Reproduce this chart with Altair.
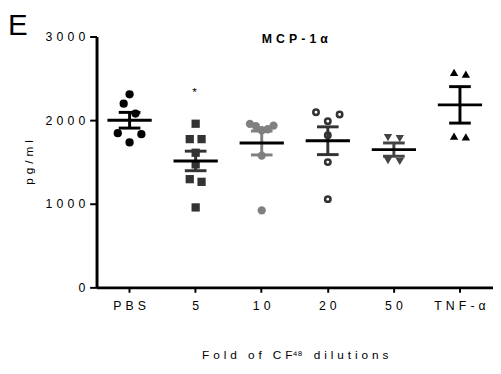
import altair as alt
import pandas as pd

# ---------------- data ----------------
groups = ["PBS", "5", "10", "20", "50", "TNF-α"]
pbs = [2309, 2196, 2079, 1844, 1832, 1733]
cf5 = [1957, 1773, 1773, 1610, 1471, 1294, 1262, 956]
cf10 = [1956, 1935, 1929, 1891, 1879, 1576, 921]
cf20 = [2094, 2067, 1988, 1820, 1498, 1055]
cf50 = [1790, 1780, 1515, 1505]
tnf = [2570, 2550, 1810, 1800]
series = [pbs, cf5, cf10, cf20, cf50, tnf]

star_group = "5"
star_value = 2340
y_ticks = [0, 1000, 2000, 3000]

panel_letter = ["E"]
chart_title = ["MCP-1α"]
x_title = "Fold of CF⁴⁸ dilutions"
y_title = "pg/ml"

# ---------------- styles ----------------
W, H = 403, 255
HALF_BAND = W / len(groups) / 2.0
SP = "\u2004"  # letter spacing


def spaced(s):
    words = s.split(" ")
    out = []
    for w in words:
        chars = []
        buf = ""
        for ch in w:
            if ch in "⁴⁸":
                buf += ch
            else:
                if buf:
                    chars.append(buf)
                    buf = ""
                chars.append(ch)
        if buf:
            chars[-1] = chars[-1] + buf
        out.append(SP.join(chars))
    return (SP + " " + SP).join(out)


labels = [spaced(g) for g in groups]
shapes = ["circle", "square", "circle", "circle", "triangle-down", "triangle-up"]
fills = ["#000000", "#333333", "#808080", "#333333", "#444444", "#000000"]
sizes = [70, 72, 80, 30, 110, 72]
eb_colors = ["#000000", "#333333", "#808080", "#000000", "#000000", "#000000"]


def dot_offsets(vals, bin_h=125, step=12.0, max_half=12.0):
    """Scatter-dot-plot layout: values are binned (ascending) and points of a
    bin are spread symmetrically around the category centre."""
    n = len(vals)
    order = sorted(range(n), key=lambda i: vals[i])
    bins = []
    for i in order:
        if bins and vals[i] - vals[bins[-1][0]] <= bin_h:
            bins[-1].append(i)
        else:
            bins.append([i])
    dx = [0.0] * n
    for b in bins:
        k = len(b)
        sp = step if k < 3 else min(step, 2 * max_half / (k - 1))
        if k % 2:
            pattern = [0.0]
            for m in range(1, k // 2 + 1):
                pattern += [m, -m]
        else:
            pattern = []
            for m in range(k // 2):
                pattern += [m + 0.5, -(m + 0.5)]
        for i, p in zip(b, pattern):
            dx[i] = p * sp
    return dx


rows = []
for lab, vals in zip(labels, series):
    for v, dx in zip(vals, dot_offsets(vals)):
        rows.append({"group": lab, "value": v, "dx": dx})
df = pd.DataFrame(rows)

FONT = "Liberation Sans"

x_enc = alt.X(
    "group:N",
    sort=labels,
    scale=alt.Scale(domain=labels, paddingInner=0, paddingOuter=0),
    axis=alt.Axis(
        title=spaced(x_title),
        titleFont=FONT,
        titleFontSize=12,
        titleFontWeight="normal",
        titleColor="#000",
        titleY=68,
        titleBaseline="middle",
        labelAngle=0,
        labelFont=FONT,
        labelFontSize=12.5,
        labelColor="#000",
        labelPadding=7,
        tickSize=5,
        tickWidth=2,
        tickColor="#000",
        domainColor="#000",
        domainWidth=3,
        grid=False,
    ),
)
y_scale = alt.Scale(domain=[0, 3000], nice=False, zero=True)
y_axis = alt.Axis(
    values=y_ticks,
    labelExpr="join(split(format(datum.value, 'd'), ''), '" + SP + "')",
    labelFont=FONT,
    labelFontSize=12.5,
    labelColor="#000",
    labelPadding=5,
    tickSize=7,
    tickWidth=2,
    tickColor="#000",
    domainColor="#000",
    domainWidth=3,
    grid=False,
    title=spaced(y_title),
    titleFont=FONT,
    titleFontSize=12,
    titleFontWeight="normal",
    titleColor="#000",
    titleX=-69,
    titleY=H / 2,
    titleAngle=-90,
    titleAlign="center",
    titleBaseline="middle",
)

base = alt.Chart(df).transform_calculate(xo="datum.dx + " + repr(HALF_BAND))

points = base.transform_filter(alt.datum.group != labels[3]).mark_point(
    filled=True, opacity=1, strokeWidth=0
).encode(
    x=x_enc,
    xOffset=alt.XOffset("xo:Q", scale=None),
    y=alt.Y("value:Q", scale=y_scale, axis=y_axis),
    shape=alt.Shape("group:N", scale=alt.Scale(domain=labels, range=shapes), legend=None),
    color=alt.Color("group:N", scale=alt.Scale(domain=labels, range=fills), legend=None),
    size=alt.Size("group:N", scale=alt.Scale(domain=labels, range=sizes), legend=None),
)

rings = base.transform_filter(alt.datum.group == labels[3]).mark_point(
    filled=False, shape="circle", size=30, strokeWidth=2.6, color=fills[3], opacity=1
).encode(
    x=alt.X("group:N", sort=labels),
    xOffset=alt.XOffset("xo:Q", scale=None),
    y=alt.Y("value:Q"),
)

stats = alt.Chart(df).transform_aggregate(
    mean="mean(value)", sem="stderr(value)", groupby=["group"]
).transform_calculate(
    lo="datum.mean - datum.sem", hi="datum.mean + datum.sem"
)

eb_color = alt.Color("group:N", scale=alt.Scale(domain=labels, range=eb_colors), legend=None)

stem = stats.mark_rule(strokeWidth=3).encode(
    x=alt.X("group:N", sort=labels),
    y=alt.Y("lo:Q"),
    y2="hi:Q",
    color=eb_color,
)
caps = stats.transform_fold(["lo", "hi"], as_=["end", "v"]).mark_tick(
    size=22, thickness=3, opacity=1
).encode(
    x=alt.X("group:N", sort=labels),
    y=alt.Y("v:Q"),
    color=eb_color,
)
mean_line = stats.mark_tick(size=45, thickness=3, color="#000", opacity=1).encode(
    x=alt.X("group:N", sort=labels),
    y=alt.Y("mean:Q"),
)

star = alt.Chart(pd.DataFrame({"group": [spaced(star_group)], "value": [star_value], "t": ["*"]})).mark_text(
    font=FONT, fontSize=12, color="#000", baseline="middle", dx=-1
).encode(
    x=alt.X("group:N", sort=labels),
    y=alt.Y("value:Q"),
    text="t:N",
)

title_txt = alt.Chart(pd.DataFrame({"t": [spaced(chart_title[0])]})).mark_text(
    font=FONT, fontSize=12.5, fontWeight="bold", color="#000", baseline="middle", align="center"
).encode(text="t:N", x=alt.value(W / 2), y=alt.value(3))

letter = alt.Chart(pd.DataFrame({"t": panel_letter})).mark_text(
    font=FONT, fontSize=30, color="#000", baseline="alphabetic", align="left"
).encode(text="t:N", x=alt.value(-90), y=alt.value(-2))

chart = alt.layer(points, rings, stem, caps, mean_line, star, title_txt, letter).properties(
    width=W,
    height=H,
    autosize=alt.AutoSizeParams(type="none"),
    padding={"left": 90, "top": 26, "right": 0, "bottom": 80},
    background="white",
).configure_view(stroke=None)

chart.save("out.html", embed_options={"renderer": "svg", "actions": False})
